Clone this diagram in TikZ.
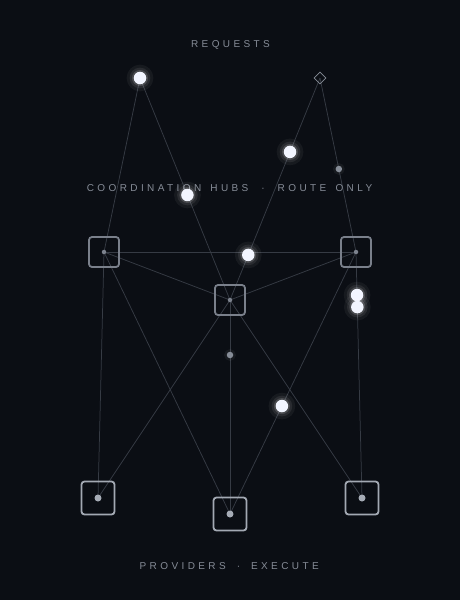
\documentclass[tikz,border=0pt]{standalone}
\usepackage{fontspec}
\setmainfont{Liberation Sans}
\usetikzlibrary{shapes.geometric}
\definecolor{bgc}{HTML}{0B0E14}
\definecolor{edgec}{HTML}{363B44}
\definecolor{hubc}{HTML}{7A808B}
\definecolor{provc}{HTML}{A3A9B3}
\definecolor{lblc}{HTML}{868C97}
\definecolor{corec}{HTML}{F2F5FF}
\definecolor{hubdot}{HTML}{7C828D}
\definecolor{provdot}{HTML}{A6ACB6}
\pgfdeclarelayer{back}
\pgfdeclarelayer{edges}
\pgfsetlayers{back,edges,main}
\tikzset{
  lbl/.style={text=lblc, inner sep=0pt, font=\fontsize{10}{12}\selectfont\addfontfeatures{LetterSpace=34}},
  edgeline/.style={draw=edgec, line width=0.75pt},
  hubbox/.style={rectangle, minimum size=30pt, inner sep=0pt, rounded corners=3pt, draw=hubc, line width=1.8pt},
  provbox/.style={rectangle, minimum size=33pt, inner sep=0pt, rounded corners=3pt, draw=provc, line width=1.8pt},
  hubcore/.style={circle, minimum size=4.5pt, inner sep=0pt, fill=hubdot},
  provcore/.style={circle, minimum size=7pt, inner sep=0pt, fill=provdot},
  reqnode/.style={diamond, minimum size=12pt, inner sep=0pt, draw=lblc, line width=0.7pt},
  pkt/.style={circle, minimum size=12.5pt, inner sep=0pt, fill=corec,
    preaction={draw=white, draw opacity=0.05, line width=14pt},
    preaction={draw=white, draw opacity=0.08, line width=8pt},
    preaction={draw=white, draw opacity=0.15, line width=3.5pt}},
  minipkt/.style={circle, minimum size=6.5pt, inner sep=0pt, fill=lblc,
    preaction={draw=white, draw opacity=0.05, line width=5pt}},
}
\begin{document}
\begin{tikzpicture}[x=1pt,y=-1pt]
\useasboundingbox (0,0) rectangle (460,600);
\begin{pgfonlayer}{back}
\fill[bgc] (0,0) rectangle (460,600);
\foreach \px/\py/\rr in {98/500/80, 230/518/100, 362/500/80}{
  \foreach \k in {1,...,14}{
    \fill[white, opacity=0.0045] (\px,\py) circle ({\rr*\k/14});
  }
}
\end{pgfonlayer}

% labels
\node[lbl] (reqlbl) at (230.5,44.5) {REQUESTS};
\node[lbl] (hublbl) at (229.5,188.5) {COORDINATION\hspace{3pt} HUBS\hspace{13pt}·\hspace{13pt}ROUTE\hspace{3pt} ONLY};
\node[lbl] (provlbl) at (229.2,566.5) {PROVIDERS\hspace{11pt}·\hspace{11pt}EXECUTE};

% request sources
\node[reqnode] (r1) at (140,78) {};
\node[reqnode] (r2) at (320,78) {};

% hubs
\node[hubbox] (h1) at (104,252) {};
\node[hubbox] (h2) at (356,252) {};
\node[hubbox] (h3) at (230,300) {};

% providers
\node[provbox] (p1) at (98,498) {};
\node[provbox] (p2) at (230,514) {};
\node[provbox] (p3) at (362,498) {};

% edges
\begin{pgfonlayer}{edges}
\draw[edgeline] (r1.center) -- (h1.center);
\draw[edgeline] (r1.center) -- (h3.center);
\draw[edgeline] (r2.center) -- (h3.center);
\draw[edgeline] (r2.center) -- (h2.center);
\draw[edgeline] (h1.center) -- (h2.center);
\draw[edgeline] (h1.center) -- (h3.center);
\draw[edgeline] (h2.center) -- (h3.center);
\draw[edgeline] (h1.center) -- (p1.center);
\draw[edgeline] (h1.center) -- (p2.center);
\draw[edgeline] (h2.center) -- (p3.center);
\draw[edgeline] (h2.center) -- (p2.center);
\draw[edgeline] (h3.center) -- (p1.center);
\draw[edgeline] (h3.center) -- (p2.center);
\draw[edgeline] (h3.center) -- (p3.center);
\end{pgfonlayer}

% center dots
\node[hubcore] (h1c) at (h1.center) {};
\node[hubcore] (h2c) at (h2.center) {};
\node[hubcore] (h3c) at (h3.center) {};
\node[provcore] (p1c) at (p1.center) {};
\node[provcore] (p2c) at (p2.center) {};
\node[provcore] (p3c) at (p3.center) {};

% packets in flight
\node[pkt] (k0) at (r1.center) {};
\path (r1.center) -- (h3.center) node[pkt, pos=0.527] (k1) {};
\path (r2.center) -- (h3.center) node[pkt, pos=0.333] (k2) {};
\path (r2.center) -- (h3.center) node[pkt, pos=0.797] (k3) {};
\path (r2.center) -- (h2.center) node[minipkt, pos=0.523] (k4) {};
\path (h2.center) -- (p3.center) node[pkt, pos=0.175] (k5) {};
\path (h2.center) -- (p3.center) node[pkt, pos=0.224] (k6) {};
\path (h2.center) -- (p2.center) node[pkt, pos=0.588] (k7) {};
\path (h3.center) -- (p2.center) node[minipkt, pos=0.257] (k8) {};
\end{tikzpicture}
\end{document}
